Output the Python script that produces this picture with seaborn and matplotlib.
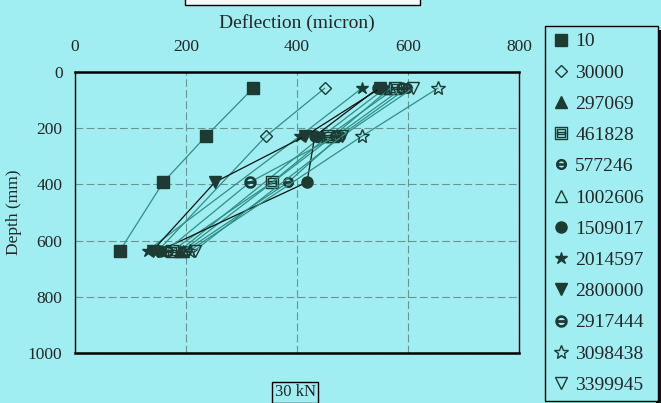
import numpy as np
import pandas as pd
import matplotlib
matplotlib.use("Agg")
import matplotlib.pyplot as plt
from matplotlib.lines import Line2D
from matplotlib.patches import Rectangle
import seaborn as sns

# ---------------------------------------------------------------------------
# Data: deflection in micron at each depth (mm)
# ---------------------------------------------------------------------------
depths = [57, 228, 392, 635]

loads = ["10", "30000", "297069", "461828", "577246", "1002606",
         "1509017", "2014597", "2800000", "2917444", "3098438", "3399945"]

d_10 = [321, 236, 159, 81]
d_30000 = [450, 344, np.nan, 150]
d_297069 = [559, 445, np.nan, 189]
d_461828 = [577, 456, 355, 175]
d_577246 = [598, 477, 384, 200]
d_1002606 = [568, 465, np.nan, 195]
d_1509017 = [546, 432, 418, 153]
d_2014597 = [517, 405, np.nan, 131]
d_2800000 = [550, 414, 252, 140]
d_2917444 = [590, 470, 315, 165]
d_3098438 = [654, 517, np.nan, 207]
d_3399945 = [609, 481, np.nan, 216]

deflections = [d_10, d_30000, d_297069, d_461828, d_577246, d_1002606,
               d_1509017, d_2014597, d_2800000, d_2917444, d_3098438, d_3399945]

# ---------------------------------------------------------------------------
# Style
# ---------------------------------------------------------------------------
BG = "#a0eef1"
DARK = "#1d3b33"
TEAL = "#2f8f85"

# marker, filled?, line colour, marker size
styles = {
    "10":      ("s", True, TEAL, 8),
    "30000":   ("D", False, TEAL, 6),
    "297069":  ("^", True, TEAL, 8),
    "461828":  (r"$\boxminus$", False, TEAL, 8),
    "577246":  (r"$\ominus$", False, TEAL, 7),
    "1002606": ("^", False, TEAL, 8),
    "1509017": ("o", True, "#111111", 8),
    "2014597": ("*", True, TEAL, 9),
    "2800000": ("v", True, "#111111", 8),
    "2917444": (r"$\ominus$", False, TEAL, 8),
    "3098438": ("*", False, TEAL, 10),
    "3399945": ("v", False, TEAL, 8),
}

rows = []
for load, vals in zip(loads, deflections):
    for dep, v in zip(depths, vals):
        if not np.isnan(v):
            rows.append({"load": load, "depth": dep, "deflection": v})
df = pd.DataFrame(rows)

sns.set_theme(style="white")
plt.rcParams["font.family"] = ["Liberation Serif", "DejaVu Serif"]
plt.rcParams["mathtext.fontset"] = "dejavusans"

fig = plt.figure(figsize=(6.61, 4.03), dpi=100)
fig.patch.set_facecolor(BG)
ax = fig.add_axes([0.1135, 0.124, 0.6717, 0.697])
ax.set_facecolor(BG)

handles = []
for load in loads:
    marker, filled, lc, ms = styles[load]
    sub = df[df["load"] == load]
    sns.lineplot(
        data=sub, x="deflection", y="depth", sort=False, estimator=None,
        color=lc, lw=0.9, marker=marker, markersize=ms,
        markerfacecolor=DARK if filled else "none",
        markeredgecolor=DARK, markeredgewidth=1.0, ax=ax, legend=False,
    )
    handles.append(Line2D([], [], linestyle="None", marker=marker, markersize=ms,
                          markerfacecolor=DARK if filled else "none",
                          markeredgecolor=DARK, markeredgewidth=1.0, label=load))

ax.set_xlim(0, 800)
ax.set_ylim(1000, 0)
ax.set_xticks([0, 200, 400, 600, 800])
ax.set_yticks([0, 200, 400, 600, 800, 1000])
ax.xaxis.tick_top()
ax.xaxis.set_label_position("top")
ax.tick_params(axis="both", labelsize=12.5, length=3, color="black", pad=6)
ax.tick_params(axis="x", length=0, pad=12)
ax.set_xlabel("Deflection (micron)", fontsize=14, labelpad=8)
ax.set_ylabel("Depth (mm)", fontsize=12.5, labelpad=4)

ax.grid(True, color="#6a9393", linestyle=(0, (7, 3)), linewidth=0.8)
for side, lw in [("top", 1.8), ("bottom", 1.8), ("left", 1.0), ("right", 1.0)]:
    ax.spines[side].set_color("black")
    ax.spines[side].set_linewidth(lw)

leg = fig.legend(handles=handles, loc="upper left",
                 bbox_to_anchor=(545 / 661, 0.9355, 113 / 661, 0.0),
                 mode="expand", fontsize=14, frameon=True, fancybox=False,
                 labelspacing=0.70, handlelength=0.9, handletextpad=0.3,
                 borderpad=0.35, borderaxespad=0)
leg.get_frame().set_facecolor(BG)
leg.get_frame().set_edgecolor("black")
leg.get_frame().set_linewidth(1.0)
leg.get_frame().set_alpha(1)

# legend shadow strip on the right
fig.add_artist(Rectangle((0.993, 0.0), 0.007, 0.925, transform=fig.transFigure,
                         facecolor="#111111", edgecolor="none"))

# cut-off title box at the very top
fig.add_artist(Rectangle((0.28, 0.988), 0.355, 0.02, transform=fig.transFigure,
                         facecolor="#f4fbfb", edgecolor="black", linewidth=1.0))

fig.text(0.447, 0.027, "30 kN", fontsize=12, ha="center", va="center",
         bbox=dict(boxstyle="square,pad=0.15", facecolor=BG, edgecolor="black",
                   linewidth=1.0))

fig.savefig("out.png", dpi=100, facecolor=BG)
